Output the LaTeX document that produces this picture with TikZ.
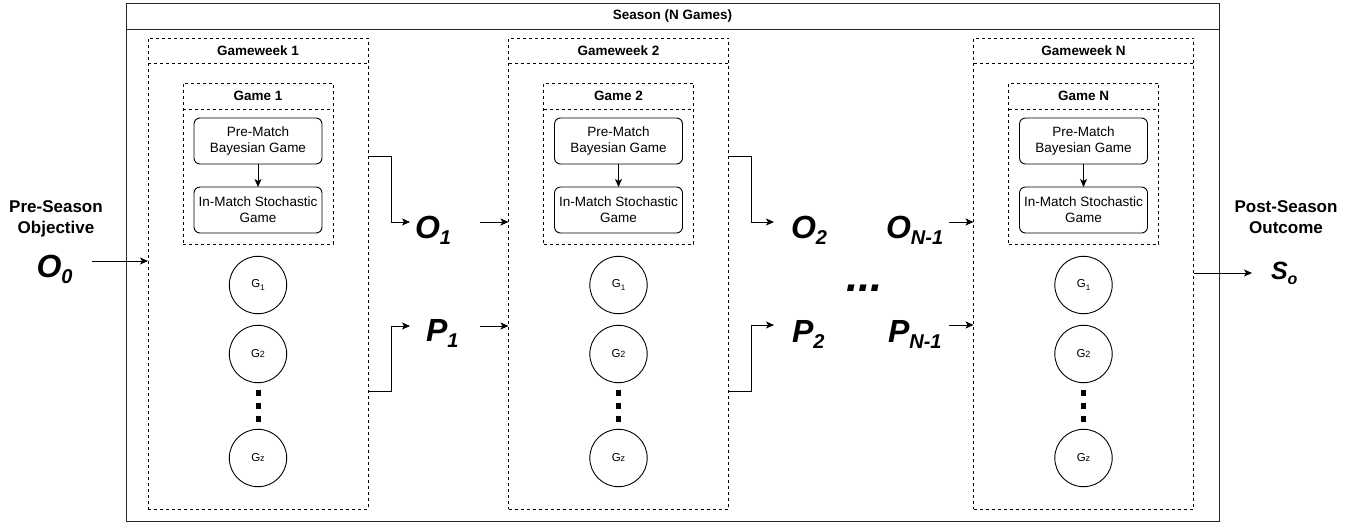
\documentclass[tikz,border=0pt]{standalone}
\usepackage{fontspec}
\setmainfont{Liberation Sans}
\usetikzlibrary{arrows.meta}
\newcommand\bsub[1]{\raisebox{-6pt}{\fontsize{20}{20}\selectfont #1}}
\begin{document}
\begin{tikzpicture}[x=1pt,y=-1pt,
  every node/.style={inner sep=0pt,outer sep=0pt},
  seasonbox/.style={draw=black!85, line width=1pt},
  dbox/.style={draw=black, line width=0.9pt, dash pattern=on 3pt off 3pt},
  rbox/.style={draw=black, line width=0.9pt, rounded corners=6pt, align=center, font=\fontsize{13.5}{16}\selectfont},
  gcirc/.style={draw=black, line width=0.9pt, circle, minimum size=57.4pt, font=\fontsize{11.5}{11.5}\selectfont},
  ttl/.style={font=\bfseries\fontsize{13.5}{16}\selectfont},
  big/.style={font=\bfseries\itshape\fontsize{32}{32}\selectfont, anchor=base west},
  side/.style={font=\bfseries\fontsize{17}{21}\selectfont, align=center, anchor=base},
  arr/.style={line width=0.9pt, -{Stealth[length=8pt,width=7pt,inset=2pt]}},
  dotline/.style={line width=5pt, dash pattern=on 6pt off 7pt}
]
\useasboundingbox (0,0) rectangle (1360,523);

% season box
\node[seasonbox, minimum width=1093pt, minimum height=518pt, anchor=north west] (season) at (126,3) {};
\draw[seasonbox] (126,29) -- (1219,29);
\node[ttl] (seasont) at (672.5,16) {Season (N Games)};

% gameweeks
\foreach \gx/\i/\lab in {148/1/1, 508.5/2/2, 973.5/3/N} {
  \node[dbox, minimum width=220pt, minimum height=471pt, anchor=north west] (gw\i) at (\gx,38) {};
  \draw[dbox] (\gx,63) -- ++(220,0);
  \node[ttl] (gwt\i) at (\gx+110,50.5) {Gameweek \lab};
  \node[dbox, minimum width=150pt, minimum height=161pt, anchor=north west] (gm\i) at (\gx+35,83) {};
  \draw[dbox] (\gx+35,109) -- ++(150,0);
  \node[ttl] (gmt\i) at (\gx+110,96) {Game \lab};
  \node[rbox, minimum width=128pt, minimum height=46pt] (pm\i) at (\gx+110,141) {Pre-Match\\Bayesian Game};
  \node[rbox, minimum width=128pt, minimum height=46pt] (im\i) at (\gx+110,210) {In-Match Stochastic\\Game};
  \draw[arr] (pm\i) -- (im\i);
  \node[gcirc] (ga\i) at (\gx+110,285) {G\raisebox{-2.5pt}{\fontsize{8}{8}\selectfont 1}};
  \node[gcirc] (gb\i) at (\gx+110,354) {G{\fontsize{9}{9}\selectfont 2}};
  \node[gcirc] (gz\i) at (\gx+110,458) {G{\fontsize{9}{9}\selectfont z}};
  \draw[dotline] ([yshift=-7pt]gb\i.south) -- ([yshift=7pt]gz\i.north);
}

% side labels
\node[side] (pre) at (56,233) {Pre-Season\\Objective};
\node[side] (post) at (1286,233) {Post-Season\\Outcome};

% big symbols
\node[big] (o0) at (36.5,277) {O\bsub{0}};
\node[big] (o1) at (415,238) {O\bsub{1}};
\node[big] (p1) at (426,341) {P\bsub{1}};
\node[big] (o2) at (791,238) {O\bsub{2}};
\node[big] (p2) at (792,342) {P\bsub{2}};
\node[big] (on) at (886,238) {O\bsub{N-1}};
\node[big] (pn) at (888,342) {P\bsub{N-1}};
\node[font=\bfseries\itshape\fontsize{44}{44}\selectfont, anchor=base west] (dots) at (846,291) {...};
\node[font=\bfseries\itshape\fontsize{25}{25}\selectfont, anchor=base west] (so) at (1271,279) {S\raisebox{-5pt}{\fontsize{16}{16}\selectfont o}};

% helper coordinates
\coordinate (yo) at (0,156);
\coordinate (yp) at (0,391);
\coordinate (o0out) at (92,261);
\coordinate (o1in) at (410,222);
\coordinate (p1in) at (410,326);
\coordinate (o1out) at (480,222);
\coordinate (p1out) at (480,326);
\coordinate (o2in) at (774,222);
\coordinate (p2in) at (774,325);
\coordinate (onout) at (949,222);
\coordinate (pnout) at (949,325);
\coordinate (soin) at (1252,273);
\coordinate (k1) at (391,0);
\coordinate (k2) at (751.5,0);

% connectors
\draw[arr] (o0out) -- (gw1.west |- o0out);
\draw[arr] (gw1.east |- yo) -- (k1 |- yo) |- (o1in);
\draw[arr] (gw1.east |- yp) -- (k1 |- yp) |- (p1in);
\draw[arr] (o1out) -- (gw2.west |- o1out);
\draw[arr] (p1out) -- (gw2.west |- p1out);
\draw[arr] (gw2.east |- yo) -- (k2 |- yo) |- (o2in);
\draw[arr] (gw2.east |- yp) -- (k2 |- yp) |- (p2in);
\draw[arr] (onout) -- (gw3.west |- onout);
\draw[arr] (pnout) -- (gw3.west |- pnout);
\draw[arr] (gw3.east |- soin) -- (soin);
\end{tikzpicture}
\end{document}
